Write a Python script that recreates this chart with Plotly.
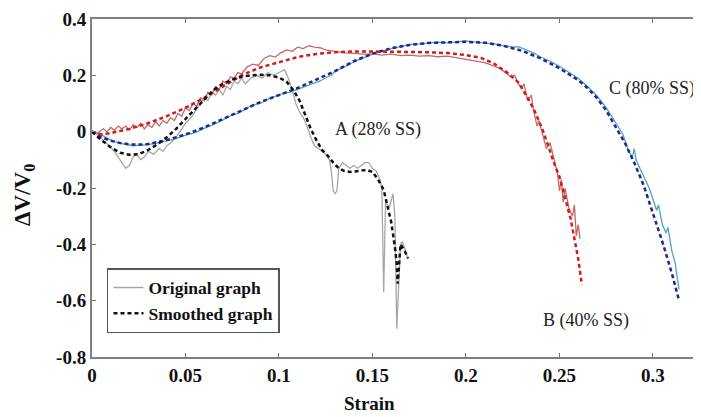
import plotly.graph_objects as go

# A (28% SS) - original and smoothed
strainA = [0, 0.003, 0.006, 0.009, 0.012, 0.015, 0.018, 0.020, 0.022, 0.024, 0.026, 0.028, 0.030, 0.033,
           0.036, 0.038, 0.040, 0.042, 0.045, 0.048, 0.050, 0.053, 0.056, 0.058, 0.060, 0.062, 0.064, 0.066,
           0.068, 0.070, 0.072, 0.074, 0.076, 0.078, 0.080, 0.082, 0.085, 0.088, 0.091, 0.094, 0.097, 0.100,
           0.103, 0.105, 0.107, 0.109, 0.111, 0.113, 0.115, 0.117, 0.119, 0.121, 0.123, 0.125, 0.127, 0.128,
           0.129, 0.130, 0.131, 0.132, 0.134, 0.136, 0.138, 0.140, 0.142, 0.144, 0.146, 0.148, 0.150, 0.152,
           0.154, 0.155, 0.156, 0.157, 0.159, 0.161, 0.162, 0.163, 0.164, 0.165, 0.166, 0.167, 0.168, 0.169]
dvA = [0, -0.01, -0.03, -0.05, -0.07, -0.10, -0.13, -0.12, -0.09, -0.08, -0.10, -0.09, -0.07, -0.08,
       -0.06, -0.07, -0.05, -0.04, -0.02, 0.01, 0.03, 0.05, 0.08, 0.10, 0.12, 0.11, 0.14, 0.13,
       0.15, 0.13, 0.16, 0.15, 0.18, 0.17, 0.19, 0.17, 0.19, 0.20, 0.19, 0.21, 0.20, 0.21,
       0.22, 0.19, 0.15, 0.10, 0.07, 0.05, 0.02, -0.02, -0.05, -0.06, -0.07, -0.08, -0.10, -0.14,
       -0.21, -0.22, -0.21, -0.13, -0.11, -0.12, -0.13, -0.12, -0.13, -0.12, -0.11, -0.11, -0.13, -0.14,
       -0.17, -0.20, -0.57, -0.25, -0.27, -0.22, -0.30, -0.70, -0.55, -0.40, -0.39, -0.41, -0.43, -0.45]

strainAs = [0, 0.005, 0.010, 0.015, 0.020, 0.025, 0.030, 0.035, 0.040, 0.045, 0.050, 0.055, 0.060, 0.065,
            0.070, 0.075, 0.080, 0.085, 0.090, 0.095, 0.100, 0.104, 0.108, 0.111, 0.114, 0.117, 0.120, 0.123,
            0.126, 0.129, 0.132, 0.135, 0.138, 0.141, 0.144, 0.147, 0.150, 0.153, 0.156, 0.158, 0.160, 0.162,
            0.163, 0.1635, 0.164, 0.165, 0.167, 0.169]
dvAs = [0, -0.03, -0.055, -0.075, -0.082, -0.08, -0.065, -0.045, -0.02, 0.01, 0.045, 0.08, 0.115, 0.148,
        0.17, 0.185, 0.195, 0.2, 0.202, 0.2, 0.192, 0.178, 0.145, 0.11, 0.06, 0.01, -0.03, -0.065,
        -0.085, -0.11, -0.13, -0.14, -0.143, -0.14, -0.138, -0.136, -0.143, -0.17, -0.207, -0.26, -0.32, -0.41,
        -0.47, -0.54, -0.5, -0.40, -0.42, -0.45]

# B (40% SS)
strainB = [0, 0.003, 0.006, 0.008, 0.010, 0.012, 0.014, 0.016, 0.018, 0.020, 0.022, 0.024, 0.026, 0.028,
           0.030, 0.032, 0.034, 0.036, 0.038, 0.040, 0.042, 0.044, 0.046, 0.048, 0.050, 0.052, 0.054, 0.056,
           0.058, 0.060, 0.062, 0.064, 0.066, 0.068, 0.070, 0.072, 0.074, 0.076, 0.078, 0.080, 0.083, 0.086,
           0.089, 0.092, 0.095, 0.098, 0.101, 0.104, 0.107, 0.110, 0.113, 0.116, 0.119, 0.122, 0.125, 0.130,
           0.135, 0.140, 0.145, 0.150, 0.155, 0.160, 0.165, 0.170, 0.175, 0.180, 0.185, 0.190, 0.195, 0.200,
           0.205, 0.210, 0.214, 0.218, 0.221, 0.224, 0.226, 0.228, 0.230, 0.231, 0.233, 0.235, 0.236, 0.238,
           0.239, 0.241, 0.243, 0.245, 0.247, 0.249, 0.250, 0.251, 0.252, 0.253, 0.255, 0.257, 0.258, 0.259,
           0.260, 0.261]
dvB = [0, -0.005, 0.01, 0.0, 0.015, 0.005, 0.02, 0.01, 0.02, 0.005, 0.025, 0.015, 0.03, 0.01,
       0.025, 0.015, 0.035, 0.02, 0.04, 0.03, 0.05, 0.04, 0.065, 0.055, 0.085, 0.075, 0.10, 0.09,
       0.12, 0.11, 0.14, 0.13, 0.16, 0.15, 0.18, 0.17, 0.195, 0.19, 0.21, 0.205, 0.23, 0.24,
       0.235, 0.26, 0.27, 0.265, 0.28, 0.29, 0.285, 0.30, 0.295, 0.305, 0.30, 0.298, 0.29, 0.285,
       0.28, 0.278, 0.275, 0.276, 0.272, 0.275, 0.27, 0.272, 0.268, 0.27, 0.266, 0.268, 0.262, 0.258,
       0.25, 0.245, 0.235, 0.225, 0.21, 0.195, 0.2, 0.17, 0.155, 0.17, 0.11, 0.13, 0.08, 0.02,
       0.04, -0.01, -0.06, -0.04, -0.10, -0.15, -0.21, -0.17, -0.25, -0.20, -0.27, -0.30, -0.26, -0.37,
       -0.33, -0.38]

strainBs = [0, 0.005, 0.010, 0.020, 0.030, 0.040, 0.050, 0.060, 0.070, 0.080, 0.090, 0.100, 0.110, 0.120,
            0.130, 0.140, 0.150, 0.160, 0.170, 0.180, 0.190, 0.200, 0.208, 0.215, 0.222, 0.228, 0.233, 0.237,
            0.241, 0.244, 0.247, 0.250, 0.253, 0.256, 0.258, 0.260, 0.262]
dvBs = [0, -0.01, -0.005, 0.01, 0.03, 0.055, 0.085, 0.12, 0.16, 0.20, 0.228, 0.247, 0.265, 0.276,
        0.282, 0.285, 0.285, 0.284, 0.283, 0.282, 0.279, 0.272, 0.262, 0.242, 0.21, 0.175, 0.12, 0.07,
        0.006, -0.05, -0.11, -0.16, -0.235, -0.31, -0.38, -0.45, -0.544]

# C (80% SS)
strainC = [0, 0.003, 0.006, 0.010, 0.014, 0.018, 0.022, 0.026, 0.030, 0.035, 0.040, 0.045, 0.050, 0.055,
           0.060, 0.065, 0.070, 0.075, 0.078, 0.082, 0.086, 0.090, 0.094, 0.098, 0.102, 0.106, 0.110, 0.114,
           0.118, 0.122, 0.126, 0.128, 0.130, 0.135, 0.140, 0.145, 0.150, 0.155, 0.160, 0.165, 0.170, 0.175,
           0.180, 0.185, 0.190, 0.195, 0.200, 0.205, 0.210, 0.215, 0.220, 0.225, 0.228, 0.232, 0.236, 0.240,
           0.245, 0.250, 0.255, 0.260, 0.265, 0.270, 0.275, 0.280, 0.284, 0.287, 0.289, 0.290, 0.291, 0.293,
           0.295, 0.298, 0.300, 0.302, 0.303, 0.305, 0.307, 0.308, 0.310, 0.312, 0.313, 0.314]
dvC = [0, -0.005, -0.015, -0.03, -0.04, -0.045, -0.05, -0.048, -0.046, -0.04, -0.033, -0.025, -0.012, -0.004,
       0.012, 0.025, 0.042, 0.06, 0.065, 0.08, 0.095, 0.1, 0.115, 0.125, 0.135, 0.14, 0.15, 0.16,
       0.17, 0.18, 0.195, 0.2, 0.215, 0.23, 0.248, 0.262, 0.275, 0.285, 0.295, 0.302, 0.31, 0.312,
       0.316, 0.318, 0.315, 0.318, 0.322, 0.318, 0.315, 0.312, 0.305, 0.3, 0.302, 0.29, 0.28, 0.265,
       0.25, 0.232, 0.21, 0.19, 0.16, 0.128, 0.085, 0.03, -0.01, -0.07, -0.09, -0.06, -0.10, -0.13,
       -0.16, -0.2, -0.24, -0.28, -0.26, -0.33, -0.36, -0.34, -0.42, -0.47, -0.52, -0.56]

strainCs = [0, 0.005, 0.010, 0.015, 0.020, 0.025, 0.030, 0.035, 0.040, 0.050, 0.060, 0.070, 0.080, 0.090,
            0.100, 0.110, 0.120, 0.130, 0.140, 0.150, 0.160, 0.170, 0.180, 0.190, 0.200, 0.210, 0.220, 0.230,
            0.240, 0.250, 0.260, 0.265, 0.270, 0.275, 0.280, 0.285, 0.290, 0.295, 0.300, 0.305, 0.310, 0.314]
dvCs = [0, -0.02, -0.032, -0.04, -0.045, -0.046, -0.044, -0.038, -0.03, -0.01, 0.015, 0.045, 0.075, 0.105,
        0.13, 0.155, 0.185, 0.215, 0.25, 0.277, 0.296, 0.308, 0.315, 0.318, 0.319, 0.316, 0.305, 0.287,
        0.26, 0.225, 0.183, 0.155, 0.12, 0.075, 0.02, -0.04, -0.11, -0.19, -0.29, -0.39, -0.5, -0.6]

xTicks = [0, 0.05, 0.1, 0.15, 0.2, 0.25, 0.3]
xTickText = ["0", "0.05", "0.1", "0.15", "0.2", "0.25", "0.3"]
yTicks = [0.4, 0.2, 0, -0.2, -0.4, -0.6, -0.8]
yTickText = ["0.4", "0.2", "0", "-0.2", "-0.4", "-0.6", "-0.8"]

labels = ["A (28% SS)", "B (40% SS)", "C (80% SS)"]
labelX = [0.129, 0.240, 0.3235]
labelY = [0.006, -0.672, 0.155]
labelAnchor = ["left", "left", "right"]

serif = "Liberation Serif"
dash = "4px,3px"

fig = go.Figure()

# originals first so the dashed smoothed curves sit on top
fig.add_trace(go.Scatter(x=strainC, y=dvC, mode="lines", line=dict(color="#4da3c9", width=1.3),
                         showlegend=False))
fig.add_trace(go.Scatter(x=strainB, y=dvB, mode="lines", line=dict(color="#c26a6a", width=1.3),
                         showlegend=False))
fig.add_trace(go.Scatter(x=strainA, y=dvA, mode="lines", line=dict(color="#a6a6a6", width=1.3),
                         name="Original graph"))
fig.add_trace(go.Scatter(x=strainCs, y=dvCs, mode="lines", line=dict(color="#1c2a8a", width=2.5, dash=dash),
                         showlegend=False))
fig.add_trace(go.Scatter(x=strainBs, y=dvBs, mode="lines", line=dict(color="#d01c1c", width=2.5, dash=dash),
                         showlegend=False))
fig.add_trace(go.Scatter(x=strainAs, y=dvAs, mode="lines", line=dict(color="#111111", width=2.5, dash=dash),
                         name="Smoothed graph"))

for t, lx, ly, anc in zip(labels, labelX, labelY, labelAnchor):
    fig.add_annotation(x=lx, y=ly, text=t, showarrow=False, xanchor=anc, yanchor="middle",
                       font=dict(family=serif, size=18, color="#222222"))

fig.add_annotation(xref="paper", yref="paper", x=-0.112, y=0.479, text="ΔV/V<sub>0</sub>", textangle=-90,
                   xanchor="center", yanchor="middle", showarrow=False,
                   font=dict(family=serif, size=23, color="#111111", weight="bold"))
fig.add_annotation(xref="paper", yref="paper", x=0.456, y=-0.139, text="Strain", showarrow=False,
                   xanchor="center", yanchor="middle",
                   font=dict(family=serif, size=19, color="#111111", weight="bold"))

fig.update_xaxes(range=[0, 0.3257], tickvals=xTicks, ticktext=xTickText, ticks="inside", ticklen=4,
                 tickcolor="#777777", showline=True, linecolor="#808080", linewidth=2, mirror="ticks",
                 showgrid=False, zeroline=False,
                 tickfont=dict(family=serif, size=19, color="#111111", weight="bold"))
fig.update_yaxes(range=[-0.8, 0.4], tickvals=yTicks, ticktext=yTickText, ticks="inside", ticklen=4,
                 tickcolor="#777777", showline=True, linecolor="#808080", linewidth=2,
                 showgrid=False, zeroline=False,
                 tickfont=dict(family=serif, size=19, color="#111111", weight="bold"))

# the page body adds 8px, so the figure is a bit smaller than the window
fig.update_layout(
    width=693, height=409,
    margin=dict(l=84, r=0, t=11, b=60),
    plot_bgcolor="white", paper_bgcolor="white",
    legend=dict(x=0.0246, y=0.263, xanchor="left", yanchor="top", bordercolor="#555555", borderwidth=1.5,
                bgcolor="white", itemwidth=30,
                font=dict(family=serif, size=17.5, color="#111111", weight="bold")),
)

fig.write_html("out.html")
